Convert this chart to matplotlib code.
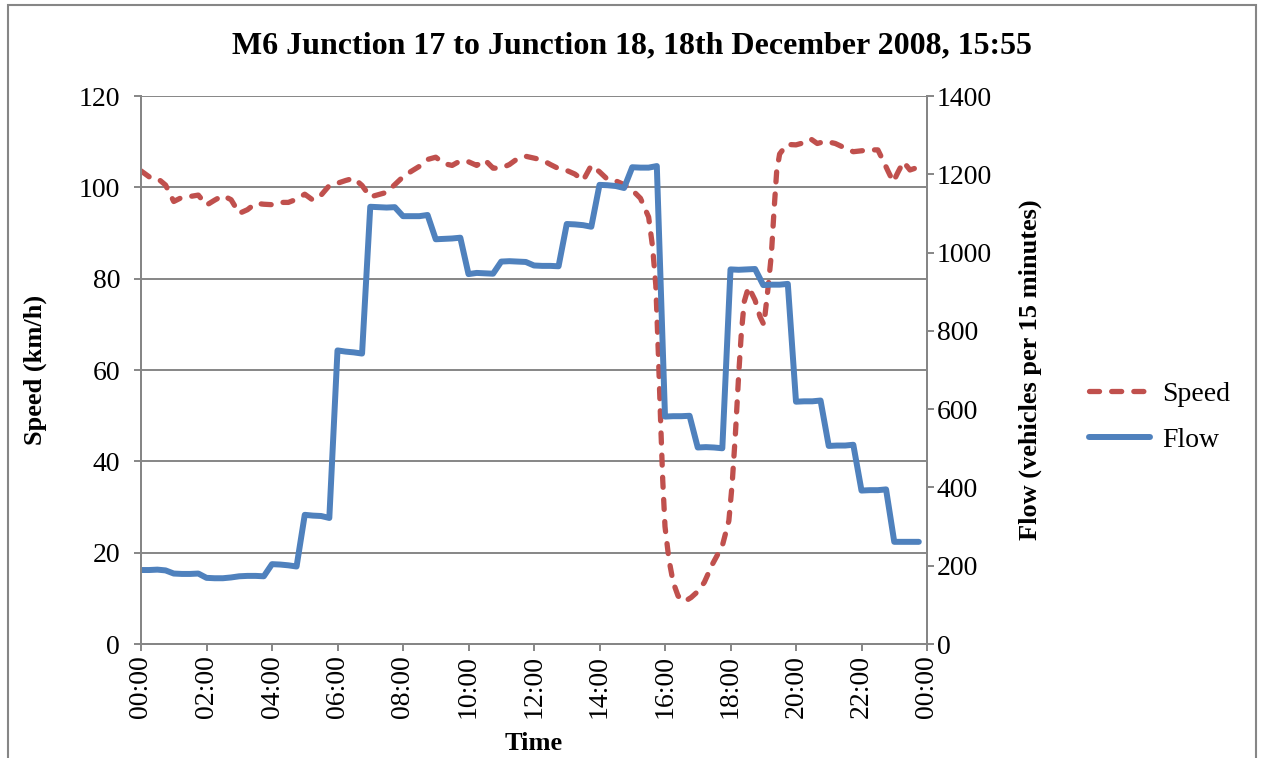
import matplotlib
matplotlib.use("Agg")
import matplotlib.pyplot as plt
from matplotlib.patches import Rectangle

plt.rcParams['font.family'] = ['Liberation Serif', 'DejaVu Serif']

# speed readings (hour of day, km/h)
speed_hours = [0.00, 0.25, 0.50, 0.75, 1.00, 1.25, 1.50, 1.75, 2.00, 2.25, 2.50, 2.75,
               3.00, 3.25, 3.50, 3.75, 4.00, 4.25, 4.50, 4.75, 5.00, 5.25, 5.50, 5.75,
               6.00, 6.25, 6.50, 6.75, 7.00, 7.25, 7.50, 7.75, 8.00, 8.25, 8.50, 8.75,
               9.00, 9.25, 9.50, 9.75, 10.00, 10.25, 10.50, 10.75, 11.00, 11.25, 11.50, 11.75,
               12.00, 12.25, 12.50, 12.75, 13.00, 13.25, 13.50, 13.75, 14.00, 14.25, 14.50, 14.75,
               15.00, 15.25, 15.50, 15.62, 15.72, 15.80, 15.87, 15.93, 16.00, 16.12, 16.25, 16.40,
               16.60, 16.80, 17.00, 17.20, 17.45, 17.75, 17.95, 18.05, 18.15, 18.25, 18.33, 18.42,
               18.55, 18.75, 18.90, 19.02, 19.15, 19.25, 19.33, 19.41, 19.50, 19.72, 20.00, 20.25,
               20.45, 20.65, 20.90, 21.20, 21.50, 21.75, 22.00, 22.25, 22.50, 22.65, 22.82, 22.97,
               23.12, 23.28, 23.48, 23.77]
speed_kmh = [103.6, 102.3, 102.0, 100.5, 96.9, 97.8, 98.0, 98.3, 96.1, 97.2, 98.2, 97.3,
             94.3, 95.1, 96.5, 96.3, 96.2, 96.7, 96.7, 97.4, 98.5, 97.2, 98.3, 100.4,
             100.9, 101.5, 102.0, 100.4, 97.9, 98.4, 98.9, 100.6, 102.3, 103.5, 104.6, 106.1,
             106.6, 105.2, 104.8, 105.8, 105.6, 104.8, 106.0, 104.2, 104.2, 105.0, 106.3, 106.8,
             106.4, 106.0, 105.0, 104.1, 103.7, 102.9, 101.5, 104.8, 103.4, 101.7, 101.4, 100.6,
             99.4, 97.6, 93.5, 87.0, 78.5, 63.0, 48.0, 36.0, 25.7, 18.5, 13.5, 10.5,
             9.3, 10.2, 11.5, 13.5, 17.5, 21.5, 27.0, 35.0, 46.0, 59.0, 68.0, 75.0,
             78.2, 75.3, 71.7, 69.9, 78.2, 85.5, 95.0, 103.5, 107.3, 109.4, 109.3, 109.8,
             110.6, 109.6, 110.1, 109.6, 108.6, 107.8, 108.0, 108.2, 108.2, 106.0, 103.4, 101.2,
             103.4, 105.6, 103.8, 104.5]

# flow per 15 minutes, sampled every quarter hour
flow_hours = [q / 4 for q in range(96)]
flow_veh = [189, 189, 190, 188, 180, 179, 179, 180, 169, 168, 168, 170,
            173, 174, 174, 173, 204, 203, 201, 198, 330, 328, 327, 322,
            750, 747, 745, 742, 1117, 1116, 1115, 1116, 1093, 1093, 1093, 1096,
            1034, 1035, 1036, 1038, 945, 948, 947, 946, 977, 978, 977, 976,
            967, 966, 966, 965, 1073, 1072, 1070, 1066, 1173, 1172, 1170, 1165,
            1218, 1217, 1217, 1221, 581, 582, 582, 583, 502, 503, 502, 500,
            957, 956, 957, 958, 917, 918, 918, 920, 619, 620, 620, 622,
            506, 507, 507, 509, 392, 393, 393, 395, 261, 261, 261, 261]

tick_hours = list(range(0, 25, 2))
tick_labels = ['%02d:00' % (h % 24) for h in tick_hours]

grey = '#868686'
fs = 20

fig = plt.figure(figsize=(12.64, 7.58), dpi=100)
ax = fig.add_axes([141 / 1264, 1 - 644 / 758, (927 - 141) / 1264, (644 - 96) / 758])
ax2 = ax.twinx()

l1, = ax.plot(speed_hours, speed_kmh, color='#C0504D', linewidth=3.8,
              linestyle=(0, (1.9, 2.3)), dash_capstyle='round', label='Speed')
l2, = ax2.plot(flow_hours, flow_veh, color='#4F81BD', linewidth=4.3,
               solid_capstyle='round', solid_joinstyle='round', label='Flow')

ax.set_xlim(0, 24)
ax.set_ylim(0, 120)
ax.set_yticks(range(0, 121, 20))
ax2.set_ylim(0, 1400)
ax2.set_yticks(range(0, 1401, 200))
ax.set_xticks(tick_hours)
ax.set_xticklabels(tick_labels, rotation=90)

ax.grid(axis='y', color=grey, linewidth=1.4)
ax.set_axisbelow(True)
for a in (ax, ax2):
    a.spines['top'].set_visible(False)
    for s in ('left', 'right', 'bottom'):
        a.spines[s].set_color(grey)
        a.spines[s].set_linewidth(1.4)
    a.tick_params(colors=grey, labelcolor='black', labelsize=fs, width=1.4, length=5)
ax.tick_params(axis='y', pad=10)
ax.tick_params(axis='x', pad=3)
ax2.tick_params(axis='y', pad=2)

ax.set_ylabel('Speed (km/h)', fontsize=19, fontweight='bold', labelpad=23)
ax2.set_ylabel('Flow (vehicles per 15 minutes)', fontsize=19, fontweight='bold', labelpad=19)
ax.set_xlabel('Time', fontsize=19, fontweight='bold', labelpad=10)

fig.text(0.5, 1 - 46 / 758, 'M6 Junction 17 to Junction 18, 18th December 2008, 15:55',
         ha='center', va='center', fontsize=23, fontweight='bold')

fig.legend(handles=[l1, l2], loc='center left', bbox_to_anchor=(1064 / 1264, 1 - 417 / 758),
           frameon=False, fontsize=fs, handlelength=2.2, handletextpad=0.45, labelspacing=0.75)

fig.add_artist(Rectangle((8 / 1264, -0.05), (1256 - 8) / 1264, 1.05 - 5 / 758,
                         transform=fig.transFigure, fill=False, edgecolor=grey,
                         linewidth=1.5, clip_on=False))

fig.savefig('out.png', dpi=100)
